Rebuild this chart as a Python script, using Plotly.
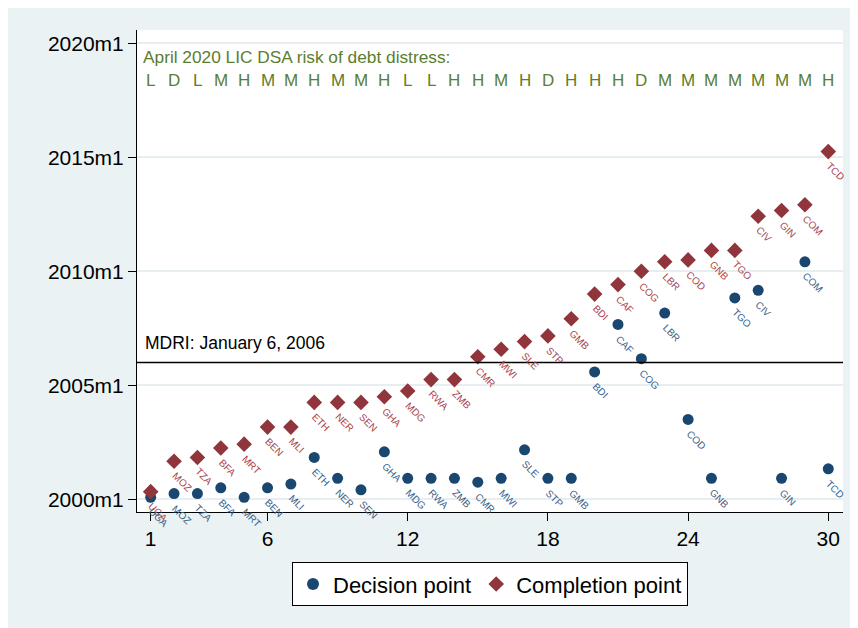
import plotly.graph_objects as go

countries = ["UGA", "MOZ", "TZA", "BFA", "MRT", "BEN", "MLI", "ETH", "NER", "SEN",
             "GHA", "MDG", "RWA", "ZMB", "CMR", "MWI", "SLE", "STP", "GMB", "BDI",
             "CAF", "COG", "LBR", "COD", "GNB", "TGO", "CIV", "GIN", "COM", "TCD"]
decision_dates = ["2000-02", "2000-04", "2000-04", "2000-07", "2000-02", "2000-07", "2000-09",
                  "2001-11", "2000-12", "2000-06", "2002-02", "2000-12", "2000-12", "2000-12",
                  "2000-10", "2000-12", "2002-03", "2000-12", "2000-12", "2005-08", "2007-09",
                  "2006-03", "2008-03", "2003-07", "2000-12", "2008-11", "2009-03", "2000-12",
                  "2010-06", "2001-05"]
completion_dates = ["2000-05", "2001-09", "2001-11", "2002-04", "2002-06", "2003-03", "2003-03",
                    "2004-04", "2004-04", "2004-04", "2004-07", "2004-10", "2005-04", "2005-04",
                    "2006-04", "2006-08", "2006-12", "2007-03", "2007-12", "2009-01", "2009-06",
                    "2010-01", "2010-06", "2010-07", "2010-12", "2010-12", "2012-06", "2012-09",
                    "2012-12", "2015-04"]
risk_rating = ["L", "D", "L", "M", "H", "M", "M", "H", "M", "M",
               "H", "L", "L", "H", "H", "M", "H", "D", "H", "H",
               "H", "D", "M", "M", "M", "M", "M", "M", "M", "H"]
x_ticks = [1, 6, 12, 18, 24, 30]
y_tick_labels = ["2000m1", "2005m1", "2010m1", "2015m1", "2020m1"]
mdri_date = "2006-01"
mdri_label = "MDRI: January 6, 2006"
risk_title = "April 2020 LIC DSA risk of debt distress:"


def tm(s):
    y, m = s.split("-")
    return (int(y) - 1960) * 12 + int(m) - 1


def tm_lbl(s):
    y, m = s.split("m")
    return (int(y) - 1960) * 12 + int(m) - 1


idx = list(range(1, len(countries) + 1))
dp = [tm(d) for d in decision_dates]
cp = [tm(d) for d in completion_dates]
y_tickvals = [tm_lbl(t) for t in y_tick_labels]
mdri = tm(mdri_date)

NAVY = "#1A476F"
MAROON = "#90353B"
GREEN = "#5B7D30"
BG = "#EAF2F3"
FONT = "Liberation Sans, Arial, sans-serif"

fig = go.Figure()
fig.add_trace(go.Scatter(x=idx, y=dp, mode="markers", name="Decision point",
                         marker=dict(symbol="circle", size=11, color=NAVY)))
fig.add_trace(go.Scatter(x=idx, y=cp, mode="markers", name="Completion point",
                         marker=dict(symbol="diamond", size=12, color=MAROON)))

ann = []
for xi, yi, c in zip(idx, dp, countries):
    ann.append(dict(x=xi, y=yi, xref="x", yref="y", text=c, showarrow=False,
                    textangle=45, xanchor="left", yanchor="top", xshift=-7, yshift=-6,
                    font=dict(family=FONT, size=10, color="#3B6289")))
for xi, yi, c in zip(idx, cp, countries):
    ann.append(dict(x=xi, y=yi, xref="x", yref="y", text=c, showarrow=False,
                    textangle=45, xanchor="left", yanchor="top", xshift=-7, yshift=-6,
                    font=dict(family=FONT, size=10, color="#A8464C")))
for xi, r in zip(idx, risk_rating):
    ann.append(dict(x=xi, y=0.896, xref="x", yref="paper", text=r, showarrow=False,
                    xanchor="center", yanchor="middle",
                    font=dict(family=FONT, size=17, color=GREEN)))
ann.append(dict(x=0, y=0.944, xref="paper", yref="paper", text=risk_title, showarrow=False,
                xanchor="left", yanchor="middle", xshift=4,
                font=dict(family=FONT, size=17.3, color=GREEN)))
ann.append(dict(x=0, y=mdri, xref="paper", yref="y", text=mdri_label, showarrow=False,
                xanchor="left", yanchor="bottom", xshift=6, yshift=7,
                font=dict(family=FONT, size=17.5, color="black")))

shapes = [
    dict(type="line", xref="paper", yref="y", x0=0, x1=1, y0=mdri, y1=mdri,
         line=dict(color="black", width=1.6)),
]

fig.update_layout(
    width=858, height=628,
    margin=dict(l=129, r=23, t=22, b=124),
    paper_bgcolor=BG, plot_bgcolor="white",
    font=dict(family=FONT, size=21, color="black"),
    showlegend=True,
    legend=dict(orientation="h", x=0.5, xanchor="center", y=-0.104, yanchor="top",
                bgcolor="white", bordercolor="black", borderwidth=1,
                font=dict(family=FONT, size=22, color="black"), itemsizing="constant"),
    annotations=ann, shapes=shapes,
    xaxis=dict(range=[0.414, 30.63], tickvals=x_ticks, ticks="outside", ticklen=8,
               tickcolor="black", showline=True, linecolor="black", linewidth=1,
               showgrid=False, zeroline=False, tickfont=dict(size=21)),
    yaxis=dict(range=[473.3, 727.0], tickvals=y_tickvals, ticktext=y_tick_labels,
               ticks="outside", ticklen=8, tickcolor="black", showline=True,
               linecolor="black", linewidth=1, showgrid=True, gridcolor="#E6EEF1",
               gridwidth=1.5, zeroline=False, tickfont=dict(size=21)),
)

fig.write_html("out.html")
